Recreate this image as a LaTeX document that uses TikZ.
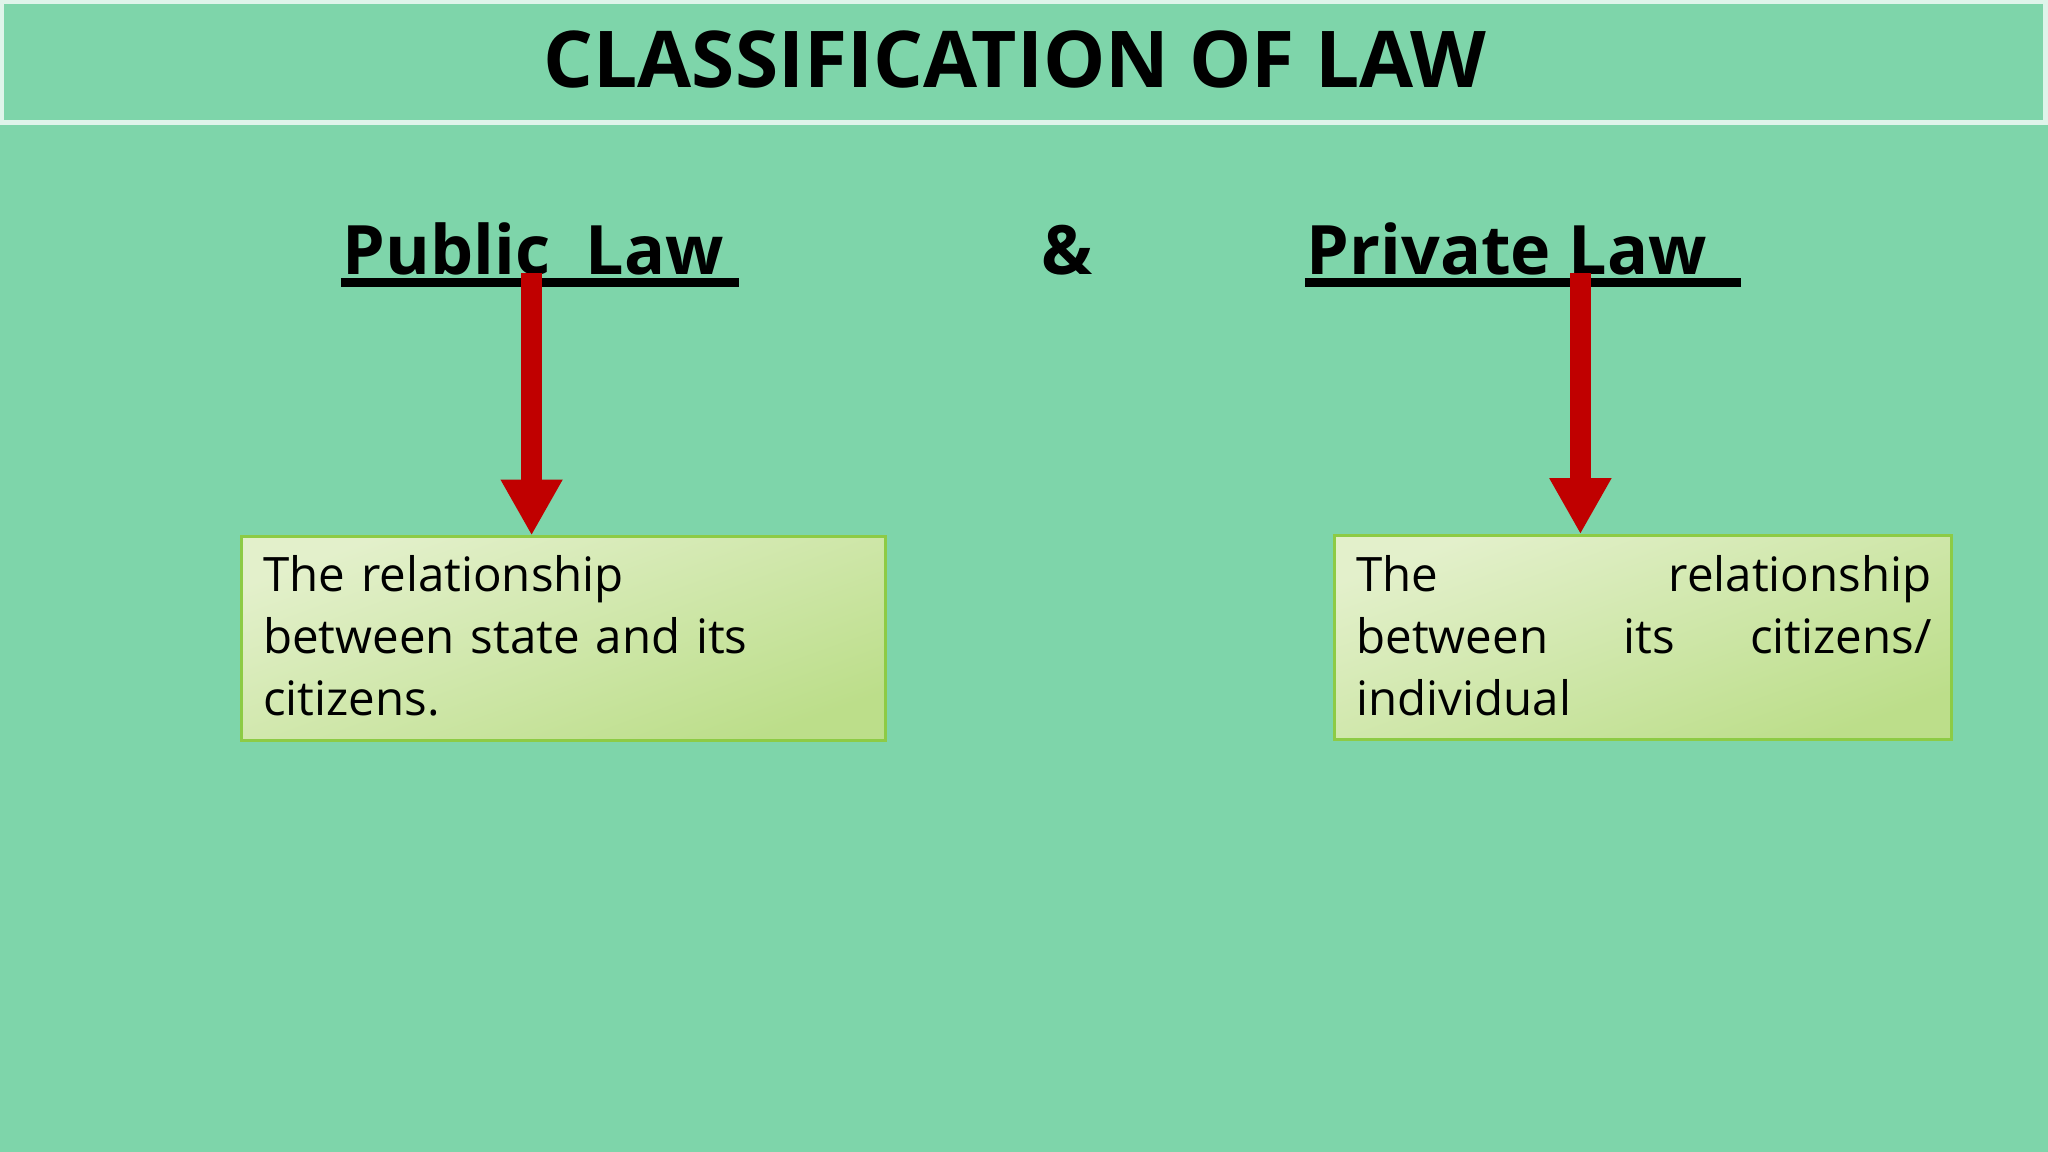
\documentclass[tikz,border=0pt]{standalone}
\usepackage{fontspec}
\setmainfont{Open Sans}
\usetikzlibrary{arrows.meta}
\definecolor{bg}{HTML}{7ED5AA}
\definecolor{arr}{HTML}{C00000}
\definecolor{boxa}{HTML}{E3F0CB}
\definecolor{boxb}{HTML}{BCDE8A}
\definecolor{boxline}{HTML}{8DCB45}
\tikzset{
  heading/.style={font=\fontsize{19.4pt}{24pt}\selectfont\bfseries, inner sep=0pt, anchor=base},
  uline/.style={line width=2.6pt},
  redarrow/.style={draw=arr, line width=6pt, -{Triangle[length=0.56cm,width=0.58cm]}, shorten >=0pt},
  lawbox/.style={draw=boxline, line width=0.8pt, top color=boxa, bottom color=boxb, shading angle=20},
  boxtext/.style={font=\fontsize{13.5pt}{17.6pt}\selectfont, inner sep=0pt, anchor=north west}
}
\begin{document}
\begin{tikzpicture}[x=0.013061cm,y=-0.013061cm]
\fill[bg] (0,0) rectangle (1568,882);
\useasboundingbox (0,0) rectangle (1568,882);
\draw[draw=white!75!bg, line width=1.5pt] (1,1) rectangle (1566,94);
\node[font=\fontsize{22.3pt}{28pt}\selectfont\bfseries, inner sep=0pt, anchor=base] (title) at (777,67) {CLASSIFICATION OF LAW};
\node[heading, anchor=base west] (pub) at (262,210) {Public\ \ Law};
\node[heading] (amp) at (817,210) {\&};
\node[heading, anchor=base west] (priv) at (1000,210) {Private Law};
\draw[uline] (261,216) -- (566,216);
\draw[uline] (999,216) -- (1333,216);
\path[lawbox] (185,411) rectangle (678,567);
\path[lawbox] (1022,410) rectangle (1494,566);
\coordinate (pubtop) at (407,209);
\coordinate (pubbox) at (407,410);
\coordinate (privtop) at (1210,209);
\coordinate (privbox) at (1210,409);
\draw[redarrow] (pubtop) -- (pubbox);
\draw[redarrow] (privtop) -- (privbox);
\node[boxtext, text width=6.2cm, align=left] (pubtext) at (201,425) {The relationship\\between state and its\\citizens.};
\node[boxtext, text width=5.75cm, align=left] (privtext) at (1038,425) {The\hfill relationship\\between\hfill its\hfill citizens/\\individual};
\end{tikzpicture}
\end{document}
